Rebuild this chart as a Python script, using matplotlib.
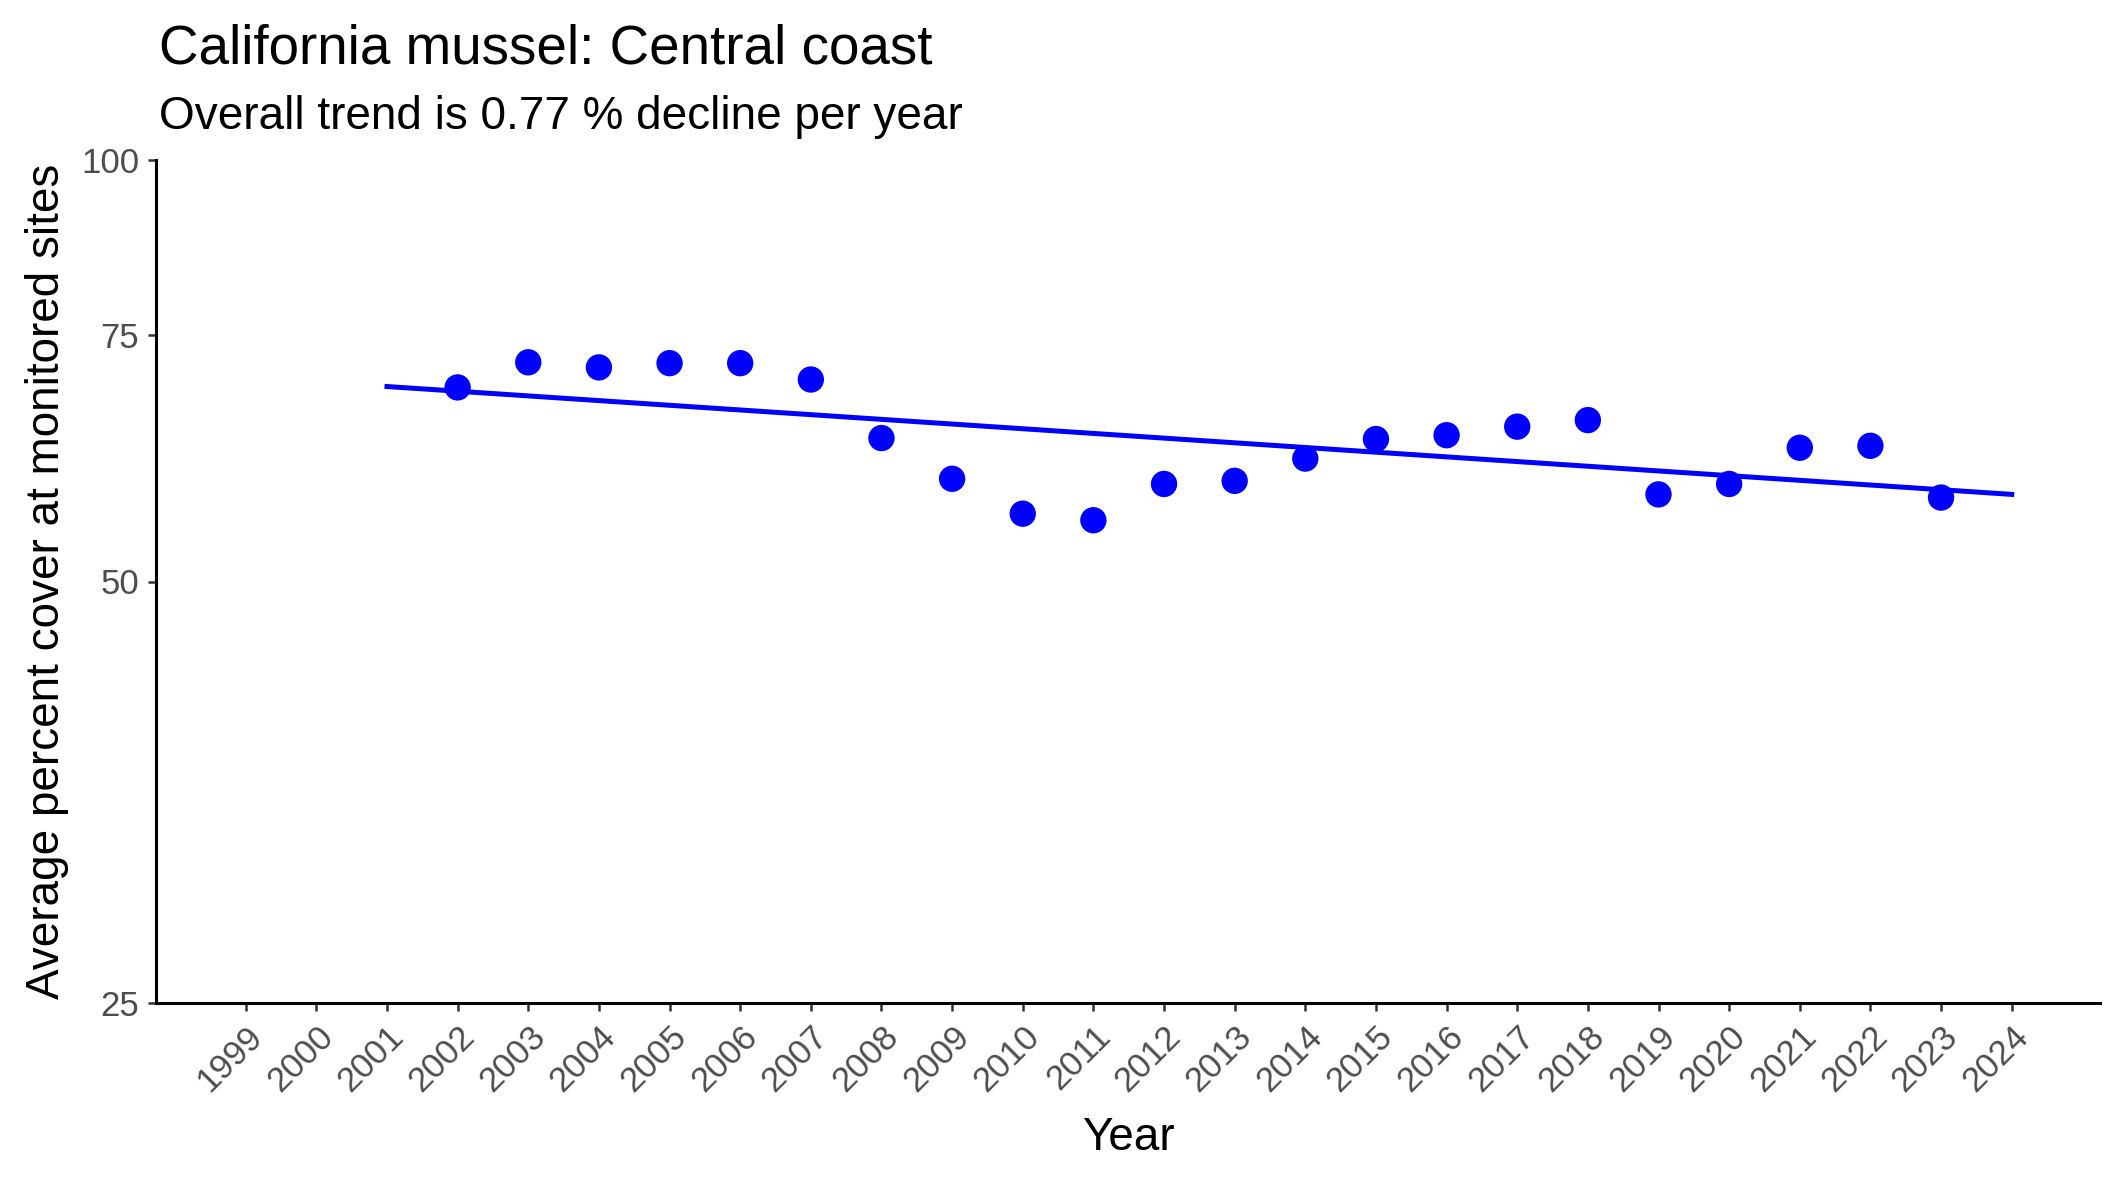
import matplotlib
matplotlib.use("Agg")
import matplotlib.pyplot as plt
from matplotlib.ticker import FixedLocator, NullLocator
import numpy as np

plt.rcParams['font.family'] = ['Liberation Sans', 'DejaVu Sans']

# data
years = [2002, 2003, 2004, 2005, 2006, 2007, 2008, 2009, 2010, 2011, 2012,
         2013, 2014, 2015, 2016, 2017, 2018, 2019, 2020, 2021, 2022, 2023]
cover = [68.8, 71.7, 71.1, 71.6, 71.6, 69.7, 63.3, 59.2, 55.9, 55.3, 58.7,
         59.0, 61.2, 63.2, 63.6, 64.5, 65.2, 57.7, 58.7, 62.3, 62.5, 57.4]
trend_years = [2001, 2024]
trend_cover = [68.9, 57.7]
tick_years = list(range(1999, 2025))
y_ticks = [25, 50, 75, 100]

fig = plt.figure(figsize=(10.625, 5.905), dpi=200)
ax = fig.add_axes([156 / 2125, 1 - 1003 / 1181, (2100 - 156) / 2125, (1003 - 160) / 1181])

ax.plot(trend_years, trend_cover, color='blue', linewidth=1.8, zorder=2)
ax.scatter(years, cover, s=90, color='blue', edgecolors='none', zorder=3)

ax.set_yscale('log')
ax.set_ylim(25, 100)
ax.yaxis.set_major_locator(FixedLocator(y_ticks))
ax.yaxis.set_minor_locator(NullLocator())
ax.set_yticklabels([str(v) for v in y_ticks])
ax.set_xlim(1997.73, 2025.25)
ax.set_xticks(tick_years)
ax.set_xticklabels([str(y) for y in tick_years], rotation=45, ha='right',
                   va='top', rotation_mode='anchor')

for side in ['top', 'right']:
    ax.spines[side].set_visible(False)
for side in ['left', 'bottom']:
    ax.spines[side].set_linewidth(1.1)
    ax.spines[side].set_color('black')
ax.tick_params(axis='both', colors='#333333', labelcolor='#4D4D4D',
               labelsize=12.5, length=3, width=0.9, pad=3)

ax.set_xlabel("Year", fontsize=16.5, labelpad=6.5)
ax.set_ylabel("Average percent cover at monitored sites", fontsize=16.5, labelpad=4.5)

fig.text(159 / 2125, 1 - 64 / 1181, "California mussel: Central coast",
         fontsize=19.7, ha='left', va='baseline')
fig.text(159 / 2125, 1 - 129 / 1181, "Overall trend is 0.77 % decline per year",
         fontsize=16.5, ha='left', va='baseline')

plt.savefig("out.png", dpi=200)
plt.close()
